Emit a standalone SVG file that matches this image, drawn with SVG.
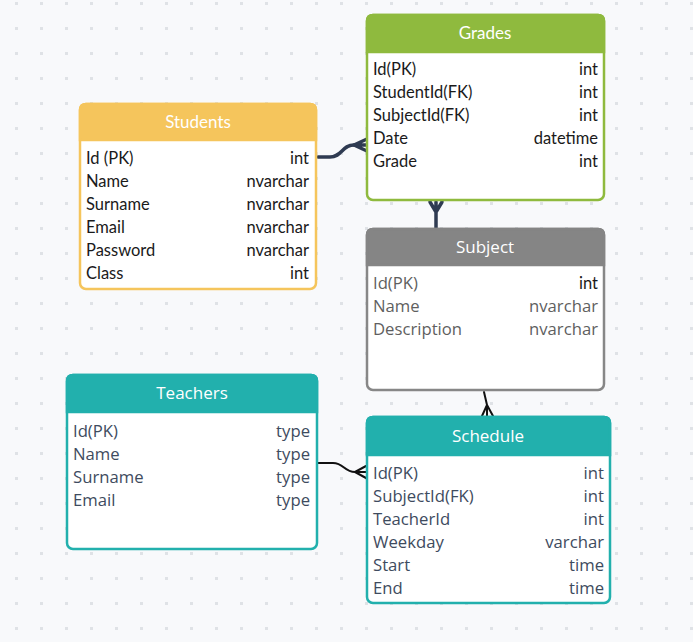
<svg xmlns="http://www.w3.org/2000/svg" width="693" height="642" viewBox="0 0 693 642">
<defs>
<pattern id="dots" x="0" y="0" width="25" height="25" patternUnits="userSpaceOnUse" patternTransform="translate(15 2)">
<rect x="0" y="0" width="3" height="3" fill="#dfe2e6"/>
</pattern>
<style>
.lato{font-family:Lato,"Liberation Sans",sans-serif;font-size:16.5px;fill:#1a1a1a}
.os{font-family:"Open Sans","Liberation Sans",sans-serif;font-size:16.7px;fill:#3e4b5e}
.osg{font-family:"Open Sans","Liberation Sans",sans-serif;font-size:16.7px;fill:#5f5f5f}
.title{fill:#ffffff;text-anchor:middle;font-size:17px}
.r{text-anchor:end}
.body{fill:#ffffff;stroke-width:2.5}
.navy{fill:none;stroke:#2f3b52;stroke-width:3.5;stroke-linecap:round;stroke-linejoin:round}
.blk{fill:none;stroke:#111111;stroke-width:2;stroke-linecap:round;stroke-linejoin:round}
</style>
</defs>
<rect width="693" height="642" fill="#f8f9fb"/>
<rect width="693" height="642" fill="url(#dots)"/>

<g id="connectors">
<path class="navy" d="M318 157 H330 C342 157 342 145 354 145"/>
<path class="navy" d="M354 145 L367 139 M354 145 L367 145 M354 145 L367 151"/>
<path class="navy" d="M436 228 V212 M436 212 L430 202 M436 212 L436 202 M436 212 L442 202"/>
<path class="blk" d="M484 392 L487 405 V416 M487 405 L482 416 M487 405 L493 416"/>
<path class="blk" d="M318 463 H333 C344 463 344 472 355 472 H366 M355 472 L366 466 M355 472 L366 478"/>
</g>

<g id="students">
<rect class="body" x="80" y="104" width="236" height="185" rx="6" stroke="#f5c55c"/>
<path d="M80 140 V110 Q80 104 86 104 H310 Q316 104 316 110 V140 Z" fill="#f5c55c" stroke="#f5c55c" stroke-width="2.5"/>
<text class="lato title" x="198" y="128">Students</text>
<text class="lato" x="86" y="164">Id (PK)</text><text class="lato r" x="309" y="164">int</text>
<text class="lato" x="86" y="187">Name</text><text class="lato r" x="309" y="187">nvarchar</text>
<text class="lato" x="86" y="210">Surname</text><text class="lato r" x="309" y="210">nvarchar</text>
<text class="lato" x="86" y="233">Email</text><text class="lato r" x="309" y="233">nvarchar</text>
<text class="lato" x="86" y="256">Password</text><text class="lato r" x="309" y="256">nvarchar</text>
<text class="lato" x="86" y="279">Class</text><text class="lato r" x="309" y="279">int</text>
</g>

<g id="grades">
<rect class="body" x="367" y="15" width="237" height="185" rx="6" stroke="#8fba3e"/>
<path d="M367 52 V21 Q367 15 373 15 H598 Q604 15 604 21 V52 Z" fill="#8fba3e" stroke="#8fba3e" stroke-width="2.5"/>
<text class="lato title" x="485" y="39">Grades</text>
<text class="lato" x="373" y="75">Id(PK)</text><text class="lato r" x="598" y="75">int</text>
<text class="lato" x="373" y="98">StudentId(FK)</text><text class="lato r" x="598" y="98">int</text>
<text class="lato" x="373" y="121">SubjectId(FK)</text><text class="lato r" x="598" y="121">int</text>
<text class="lato" x="373" y="144">Date</text><text class="lato r" x="598" y="144">datetime</text>
<text class="lato" x="373" y="167">Grade</text><text class="lato r" x="598" y="167">int</text>
</g>

<g id="subject">
<rect class="body" x="367" y="229" width="237" height="161" rx="6" stroke="#878787"/>
<path d="M367 265 V235 Q367 229 373 229 H598 Q604 229 604 235 V265 Z" fill="#858585" stroke="#858585" stroke-width="2.5"/>
<text class="os title" x="485" y="253">Subject</text>
<text class="osg" x="373" y="289">Id(PK)</text><text class="lato r" x="598" y="289">int</text>
<text class="osg" x="373" y="312">Name</text><text class="osg r" x="598" y="312">nvarchar</text>
<text class="osg" x="373" y="335">Description</text><text class="osg r" x="598" y="335">nvarchar</text>
</g>

<g id="teachers">
<rect class="body" x="67" y="375" width="250" height="174" rx="6" stroke="#22b0ad"/>
<path d="M67 412 V381 Q67 375 73 375 H311 Q317 375 317 381 V412 Z" fill="#22b0ad" stroke="#22b0ad" stroke-width="2.5"/>
<text class="os title" x="192" y="399">Teachers</text>
<text class="os" x="73" y="437">Id(PK)</text><text class="os r" x="310" y="437">type</text>
<text class="os" x="73" y="460">Name</text><text class="os r" x="310" y="460">type</text>
<text class="os" x="73" y="483">Surname</text><text class="os r" x="310" y="483">type</text>
<text class="os" x="73" y="506">Email</text><text class="os r" x="310" y="506">type</text>
</g>

<g id="schedule">
<rect class="body" x="367" y="417" width="243" height="186" rx="6" stroke="#22b0ad"/>
<path d="M367 455 V423 Q367 417 373 417 H604 Q610 417 610 423 V455 Z" fill="#22b0ad" stroke="#22b0ad" stroke-width="2.5"/>
<text class="os title" x="488" y="442">Schedule</text>
<text class="os" x="373" y="479">Id(PK)</text><text class="os r" x="604" y="479">int</text>
<text class="os" x="373" y="502">SubjectId(FK)</text><text class="os r" x="604" y="502">int</text>
<text class="os" x="373" y="525">TeacherId</text><text class="os r" x="604" y="525">int</text>
<text class="os" x="373" y="548">Weekday</text><text class="os r" x="604" y="548">varchar</text>
<text class="os" x="373" y="571">Start</text><text class="os r" x="604" y="571">time</text>
<text class="os" x="373" y="594">End</text><text class="os r" x="604" y="594">time</text>
</g>
</svg>
